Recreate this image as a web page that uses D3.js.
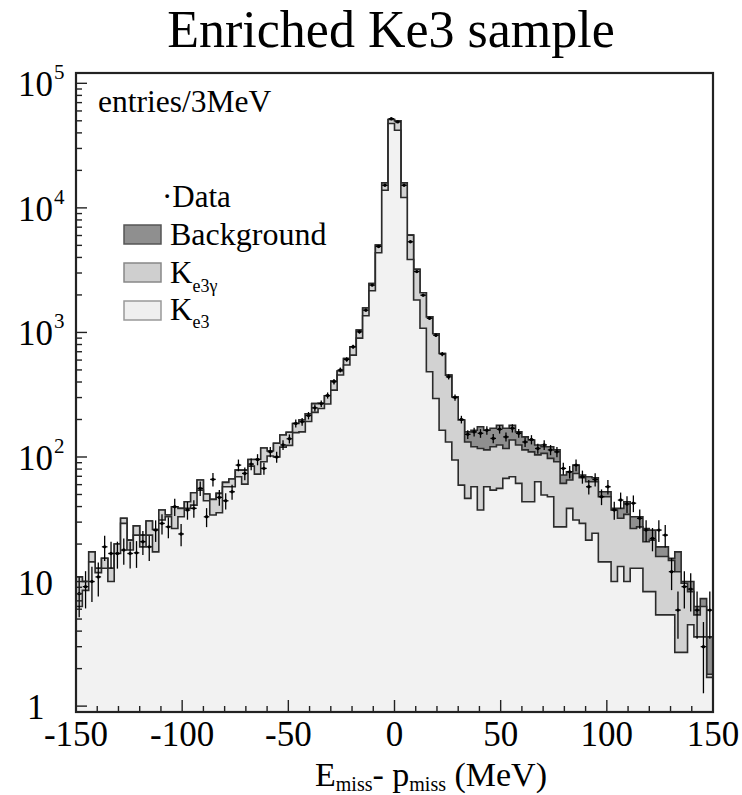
<!DOCTYPE html>
<html><head><meta charset="utf-8">
<script src="https://cdn.jsdelivr.net/npm/d3@7"></script>
<style>
body{margin:0;background:#fff}
svg{display:block}
text{font-family:"Liberation Serif","DejaVu Serif",serif;fill:#000;white-space:pre}
</style>
</head><body>
<svg id="c" width="742" height="795"></svg>
<script>
// ---- data (entries per 3 MeV bin, bins from -150 to 150 MeV) ----
const binLow = d3.range(-150, 150, 3);
const binWidth = 3;

const ke3 = [6.3, 8.5, 14.4, 11.8, 12.8, 10.0, 16.8, 29.3, 17.9, 23.6,
 19.0, 23.6, 17.3, 31.2, 33.1, 26.7, 33.1, 38.7, 41.1, 54.2,
 44.5, 34.2, 35.7, 57.7, 57.7, 69.4, 60.6, 84.5, 72.9, 91.5,
 102, 100, 120, 124, 157, 159, 193, 228, 245, 266,
 344, 455, 547, 658, 900, 1360, 2160, 4360, 13870, 47550,
 42030, 12130, 3850, 1820, 1080, 483, 295, 164, 132, 94.5,
 59.5, 46.5, 57.7, 37.5, 57.7, 54.2, 56.0, 67.3, 69.4, 61.4,
 43.7, 43.7, 63.2, 49.5, 48.0, 27.5, 27.5, 38.7, 31.2, 29.3,
 21.5, 24.4, 14.4, 14.4, 10.0, 13.2, 10.0, 12.8, 12.8, 8.3,
 8.3, 5.4, 5.4, 5.4, 2.7, 2.7, 4.5, 3.6, 3.6, 1.7];

const ke3g = [4.6, 1.5, 2.9, 1.0, 2.6, 2.8, 3.2, 2.9, 3.6, 4.4,
 4.6, 7.0, 8.9, 6.3, 1.1, 13.2, 5.6, 5.0, 10.5, 11.1,
 5.9, 11.5, 15.3, 4.8, 8.8, 9.1, 17.9, 11.1, 22.7, 26.5,
 10, 29, 30, 34, 29, 39, 29, 40, 25, 44,
 63, 35, 71, 109, 143, 210, 313, 660, 2000, 3720,
 7900, 3740, 2190, 1386, 1000, 851, 680, 514, 322, 209.5,
 138.5, 85.5, 63.3, 79.5, 56.3, 66.8, 69, 49.7, 67.6, 63.6,
 70.3, 66.3, 40.8, 57.5, 49.5, 64, 33.9, 26.6, 42.6, 38.8,
 41.7, 38.8, 33.6, 33.6, 27.5, 19, 24.6, 13.9, 14.7, 12.6,
 13.2, 10.5, 10.5, 9.4, 9.3, 7.0, 3.8, 1.8, 2.7, 0.1];

const bkg = [0,0,0,0,0,0,0,0,0,0,
 0,0,0,0,0,0,0,0,0,0,
 0,0,0,0,0,0,0,0,0,0,
 0,0,0,0,0,0,0,0,0,0,
 0,0,0,0,0,0,0,0,0,0,
 0,0,0,0,0,0,0,0,0,0,
 0, 27, 43, 58, 50, 49, 55, 53, 43, 34,
 31, 27, 21, 14, 23.5, 22.5, 10.2, 10.8, 12.3, 3.5,
 6.2, 4.9, 4.6, 4.6, 1.2, 6.5, 9.1, 6.4, 5.6, 5.8,
 4.4, 3.1, 3.1, 0.6, 5.3, 0.3, 1.7, 0.9, 1.0, 1.8];

const dataPts = [8.0, 9.1, 10.0, 10.9, 19.0, 16.8, 16.8, 17.9, 16.8, 17.0,
 20.9, 19.0, 25.9, 29.3, 27.5, 39.9, 24.1, 37.5, 38.7, 56.0,
 33.1, 66.1, 47.4, 44.5, 52.6, 86.1, 73.8, 87.7, 95.6, 81,
 110, 100, 125, 140, 186, 192, 215, 248, 268, 312,
 402, 500, 607, 767, 1011, 1510, 2400, 4900, 15200, 52000,
 49000, 15200, 5340, 3080, 1992, 1300, 950, 670, 440, 300,
 200, 152, 159, 155, 164, 141, 167, 145, 170, 155,
 132, 138, 117, 125, 114, 110, 81, 76, 86, 69.4,
 57.7, 66, 48, 57.7, 37.5, 45.1, 42, 42.6, 32.2, 25.9,
 22.2, 25.9, 23.6, 12, 5.9, 9.1, 8.7, 5.9, 3.0, 5.9];

const xTickLabels = [-150, -100, -50, 0, 50, 100, 150];
const yTickExps = [0, 1, 2, 3, 4, 5];
const colors = {bkg: "#8f8f8f", ke3g: "#d2d2d2", ke3: "#f2f2f2", line: "#2b2b2b"};

// ---- layout ----
const L = 76, R = 713, T = 73, B = 712;
const svg = d3.select("#c");
const x = d3.scaleLinear().domain([-150, 150]).range([L, R]);
const y = d3.scaleLog().domain([0.897, 121000]).range([B, T]).clamp(true);

svg.append("defs").append("clipPath").attr("id", "plot")
  .append("rect").attr("x", L).attr("y", T).attr("width", R - L).attr("height", B - T);

const cumKe3 = ke3.slice();
const cumKg = ke3.map((v, i) => v + ke3g[i]);
const cumAll = cumKg.map((v, i) => v + bkg[i]);

function stepPath(vals) {
  const pts = [[x(binLow[0]), B]];
  vals.forEach((v, i) => {
    pts.push([x(binLow[i]), y(v)]);
    pts.push([x(binLow[i] + binWidth), y(v)]);
  });
  pts.push([x(binLow[binLow.length - 1] + binWidth), B]);
  return d3.line()(pts) + "Z";
}

const g = svg.append("g").attr("clip-path", "url(#plot)");
[[cumAll, colors.bkg], [cumKg, colors.ke3g], [cumKe3, colors.ke3]].forEach(([vals, col]) => {
  g.append("path").attr("d", stepPath(vals))
    .attr("fill", col).attr("stroke", colors.line).attr("stroke-width", 1.6)
    .attr("stroke-linejoin", "miter");
});

// data points with Poisson error bars
const dg = g.append("g").attr("stroke", "#000").attr("stroke-width", 1.3);
dataPts.forEach((d, i) => {
  const cx = x(binLow[i] + binWidth / 2);
  const e = Math.sqrt(d);
  dg.append("line").attr("x1", cx).attr("x2", cx)
    .attr("y1", y(Math.max(d - e, 0.5))).attr("y2", y(d + e));
  dg.append("line").attr("x1", cx - 2.8).attr("x2", cx + 2.8)
    .attr("y1", y(d)).attr("y2", y(d));
});
const dots = g.append("g");
dataPts.forEach((d, i) => {
  dots.append("circle").attr("cx", x(binLow[i] + binWidth / 2)).attr("cy", y(d)).attr("r", 1.7).attr("fill", "#000");
});

// ---- axes ticks ----
const ax = svg.append("g").attr("stroke", "#222").attr("stroke-width", 1.4);
d3.range(-150, 151, 10).forEach(v => {
  const len = (v % 50 === 0) ? 12 : 6;
  ax.append("line").attr("x1", x(v)).attr("x2", x(v)).attr("y1", B).attr("y2", B - len);
});
yTickExps.forEach(k => {
  const v = Math.pow(10, k);
  ax.append("line").attr("x1", L).attr("x2", L + 11).attr("y1", y(v)).attr("y2", y(v));
  if (k < 5) {
    for (let m = 2; m <= 9; m++) {
      ax.append("line").attr("x1", L).attr("x2", L + 6).attr("y1", y(m * v)).attr("y2", y(m * v));
    }
  }
});
// frame
svg.append("rect").attr("x", L).attr("y", T).attr("width", R - L).attr("height", B - T)
  .attr("fill", "none").attr("stroke", "#222").attr("stroke-width", 2.2);

// ---- labels ----
xTickLabels.forEach(v => {
  svg.append("text").attr("x", x(v)).attr("y", 746).attr("text-anchor", "middle")
    .attr("font-size", 35).text(v);
});
yTickExps.forEach(k => {
  const yy = y(Math.pow(10, k));
  if (k === 0) {
    svg.append("text").attr("x", 27).attr("y", yy + 13).attr("font-size", 35).text("1");
  } else {
    svg.append("text").attr("x", 18).attr("y", yy + 13).attr("font-size", 35).text("10");
    if (k > 1) svg.append("text").attr("x", 54).attr("y", yy - 4).attr("font-size", 21).text(k);
  }
});

svg.append("text").attr("x", 391).attr("y", 47).attr("text-anchor", "middle")
  .attr("font-size", 52).text("Enriched Ke3 sample");
svg.append("text").attr("x", 98).attr("y", 112).attr("font-size", 31.5).text("entries/3MeV");

// composite text helper: pieces [text, size, dy]
function composite(parts, x0, base, anchor) {
  const grp = svg.append("g");
  let cx = 0;
  parts.forEach(([t, size, dy]) => {
    const el = grp.append("text").attr("x", cx).attr("y", base + dy).attr("font-size", size).text(t);
    cx += el.node().getComputedTextLength();
  });
  const off = anchor === "middle" ? x0 - cx / 2 : x0;
  grp.attr("transform", `translate(${off},0)`);
}
composite([["E", 34, 0], ["miss", 20, 5], ["-\u00A0p", 34, 0], ["miss", 20, 5], ["\u00A0(MeV)", 34, 0]], 431, 786, "middle");

// legend
const legendBoxes = [
  {fill: colors.bkg, stroke: "#555", y0: 225},
  {fill: "#cfcfcf", stroke: "#888", y0: 263},
  {fill: "#efefef", stroke: "#999", y0: 301}
];
legendBoxes.forEach(it => {
  svg.append("rect").attr("x", 124).attr("y", it.y0).attr("width", 37).attr("height", 19)
    .attr("fill", it.fill).attr("stroke", it.stroke).attr("stroke-width", 1.5);
});
svg.append("text").attr("x", 162).attr("y", 207).attr("font-size", 31).text("\u00B7Data");
svg.append("text").attr("x", 170).attr("y", 245).attr("font-size", 32).text("Background");
composite([["K", 31, 0], ["e3\u03B3", 18, 9]], 170, 283, "start");
composite([["K", 31, 0], ["e3", 18, 8]], 170, 320, "start");
</script>
</body></html>
